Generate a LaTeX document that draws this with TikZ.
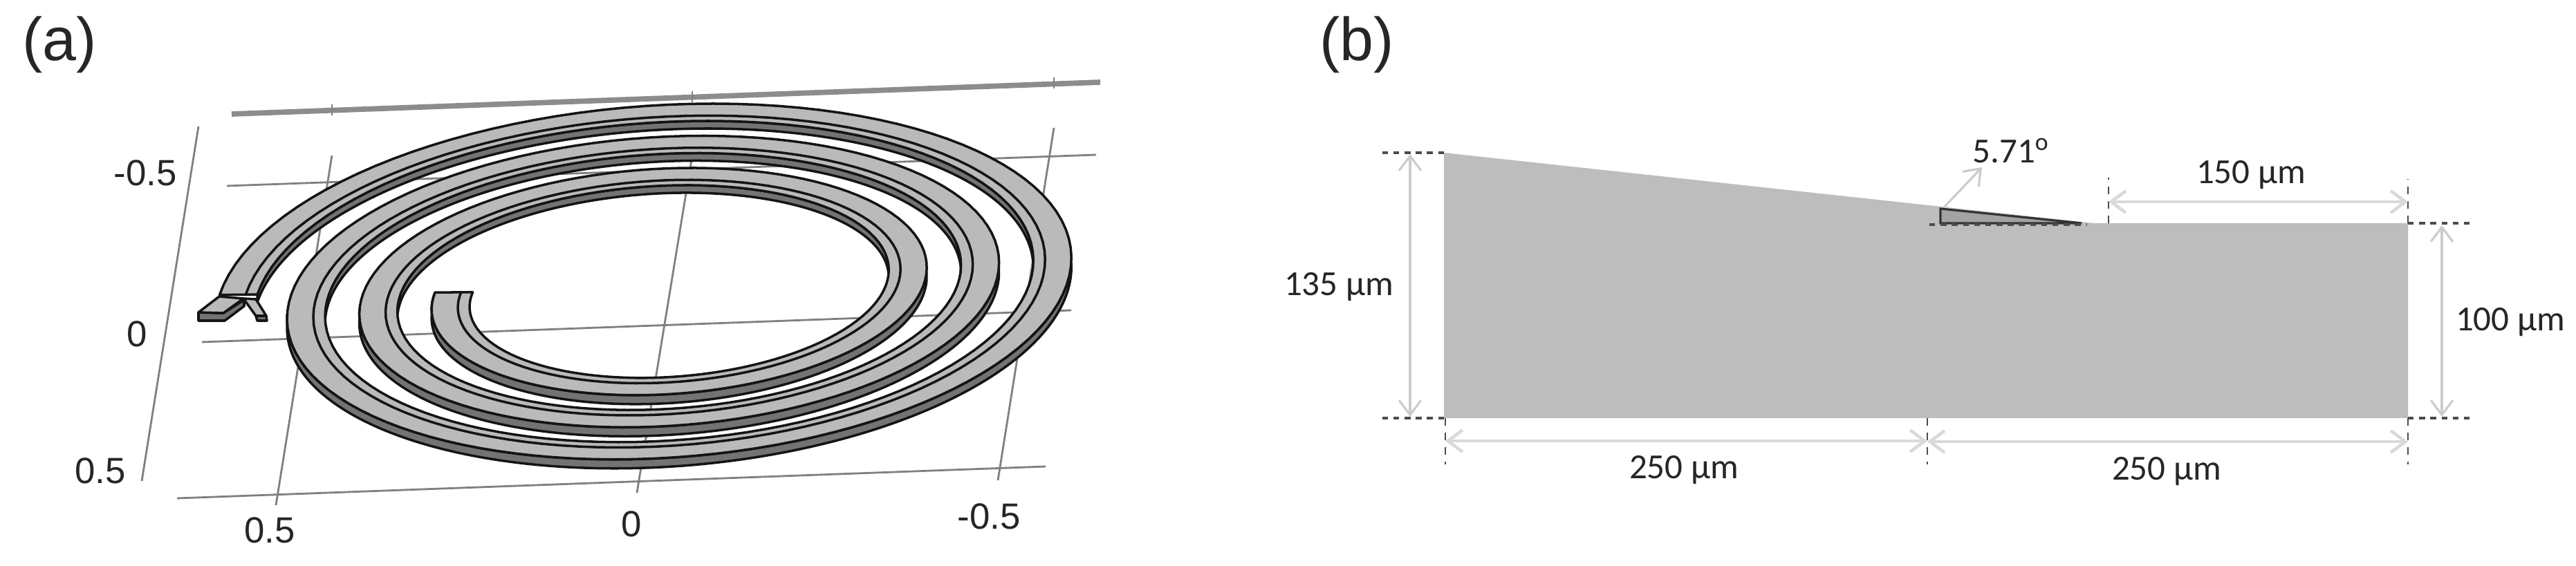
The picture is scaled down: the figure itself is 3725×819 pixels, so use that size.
\documentclass[tikz,border=0pt]{standalone}
\usepackage{fontspec}
\setmainfont{Liberation Sans}
\newfontfamily\dimfont{Carlito}
\usetikzlibrary{arrows.meta}
\tikzset{
    declare function={
        spa(\t)=593-(\t-360)*0.2906;
        spb(\t)=267-(\t-270)*0.1278;
        spx(\t,\d)=956+(spa(\t)-\d)*cos(\t);
        spy(\t,\d)=419-0.065*(spa(\t)-\d)*cos(\t)+(spb(\t)-0.45*\d)*sin(\t);
    },
    gridline/.style={draw=black!50, line width=0.8pt},
    topline/.style={draw=black!45, line width=2.2pt},
    facepart/.style={fill=black!27, draw=black!92, line width=1pt, line join=round},
    wallpart/.style={fill=black!55, draw=black!92, line width=1pt, line join=round},
    axislabel/.style={font=\fontsize{15}{17}\selectfont, text=black!85, inner sep=0},
    panellabel/.style={font=\fontsize{25}{28}\selectfont, text=black!85, inner sep=0},
    dimlabel/.style={font=\dimfont\fontsize{14.5}{17}\selectfont, text=black!85, inner sep=0},
    dimarrow/.style={draw=black!20, line width=0.9pt, {Straight Barb[length=6pt,width=9pt]}-{Straight Barb[length=6pt,width=9pt]}},
    dimwide/.style={dimarrow, draw=black!15, line width=1.3pt},
    dimdash/.style={draw=black!70, line width=0.8pt, dash pattern=on 3.2pt off 2.8pt},
    dimdot/.style={draw=black!70, line width=1pt, dash pattern=on 2.4pt off 2.2pt},
}
\newcommand{\spiralband}[7]{%
    \draw[#1] plot[variable=\t,domain=#2:#3,samples=361] ({spx(\t,#4)},{spy(\t,#4)+#5})
        -- plot[variable=\t,domain=#3:#2,samples=361] ({spx(\t,#6)},{spy(\t,#6)+#7}) -- cycle;
}
\begin{document}
\begin{tikzpicture}[x=0.01cm,y=-0.01cm]
    \useasboundingbox (0,0) rectangle (3725,819);
    \fill[white] (0,0) rectangle (3725,819);

    \node[panellabel] (labela) at (86,65) {(a)};
    \node[panellabel] (labelb) at (1962,65) {(b)};

    \draw[topline] (335,165) -- (1591,119);
    \draw[gridline] (480,151) -- (480,167);
    \draw[gridline] (1001,132) -- (1001,148);
    \draw[gridline] (1524,112) -- (1524,128);
    \draw[gridline] (287,183) -- (205,696);
    \draw[gridline] (328,269) -- (1585,224);
    \draw[gridline] (292,495) -- (1549,449);
    \draw[gridline] (256,721) -- (1512,675);
    \draw[gridline] (480,225) -- (399,731);
    \draw[gridline] (1001,225) -- (921,713);
    \draw[gridline] (1524,185) -- (1443,695);

    \node[axislabel] (ym) at (210,250) {-0.5};
    \node[axislabel] (yz) at (198,483) {0};
    \node[axislabel] (yp) at (145,681) {0.5};
    \node[axislabel] (xp) at (390,767) {0.5};
    \node[axislabel] (xz) at (913,758) {0};
    \node[axislabel] (xm) at (1430,747) {-0.5};

    \spiralband{wallpart}{360}{540}{0}{0}{0}{13}
    \spiralband{wallpart}{720}{900}{0}{0}{0}{13}
    \spiralband{wallpart}{1080}{1267}{0}{0}{0}{13}
    \spiralband{wallpart}{187}{360}{55}{0}{55}{11}
    \spiralband{wallpart}{540}{720}{55}{0}{55}{11}
    \spiralband{wallpart}{900}{1080}{55}{0}{55}{11}
    \spiralband{facepart}{187}{1267}{0}{0}{55}{0}
    \draw[draw=black!92, line width=1pt] plot[variable=\t,domain=187:1267,samples=361] ({spx(\t,38)},{spy(\t,38)});

    \draw[wallpart] (287,452) -- (323,453) -- (353,434) -- (353,443) -- (325,464) -- (287,464) -- cycle;
    \draw[facepart] (317,429) -- (352,432) -- (323,453) -- (287,452) -- cycle;
    \draw[wallpart] (370,457) -- (385,457) -- (386,464) -- (372,464) -- cycle;
    \draw[facepart] (352,432) -- (370,433) -- (385,457) -- (370,457) -- cycle;

    \fill[black!26] (2088,221) -- (3028,323) -- (3482,323) -- (3482,605) -- (2088,605) -- cycle;
    \draw[fill=black!36, draw=black!80, line width=0.9pt] (2806,302) -- (3010,323) -- (2806,323) -- cycle;

    \coordinate (tl) at (2088,221);
    \coordinate (bl) at (2088,605);
    \coordinate (bm) at (2787,605);
    \coordinate (br) at (3482,605);
    \coordinate (tr) at (3482,323);
    \coordinate (tk) at (3049,323);

    \draw[dimdot] (tl) -- (1995,221);
    \draw[dimdot] (bl) -- (1993,605);
    \draw[dimdot] (tr) -- (3577,323);
    \draw[dimdot] (br) -- (3577,605);
    \draw[dimdot] (2790,325) -- (3017,325);
    \draw[dimdash] (2090,605) -- (2090,672);
    \draw[dimdash] (bm) -- (2787,672);
    \draw[dimdash] (br) -- (3482,672);
    \draw[dimdash] (tk) -- (3049,257);
    \draw[dimdash] (tr) -- (3482,259);

    \draw[dimarrow] (2039,223) -- (2039,603);
    \draw[dimarrow] (3531,326) -- (3531,603);
    \draw[dimwide] (2090,638) -- (2787,638);
    \draw[dimwide] (2787,639) -- (3482,639);
    \draw[dimwide] (3049,292) -- (3482,292);
    \draw[draw=black!20, line width=0.9pt, -{Straight Barb[length=6pt,width=9pt]}] (2811,300) -- (2866,242);

    \node[dimlabel] (dimh) at (1936,415) {135 µm};
    \node[dimlabel] (dimk) at (3630,466) {100 µm};
    \node[dimlabel] (dimb) at (2435,680) {250 µm};
    \node[dimlabel] (dimc) at (3133,682) {250 µm};
    \node[dimlabel] (dimt) at (3255,253) {150 µm};
    \node[dimlabel] (dima) at (2908,218) {5.71\textsuperscript{o}};
\end{tikzpicture}
\end{document}
